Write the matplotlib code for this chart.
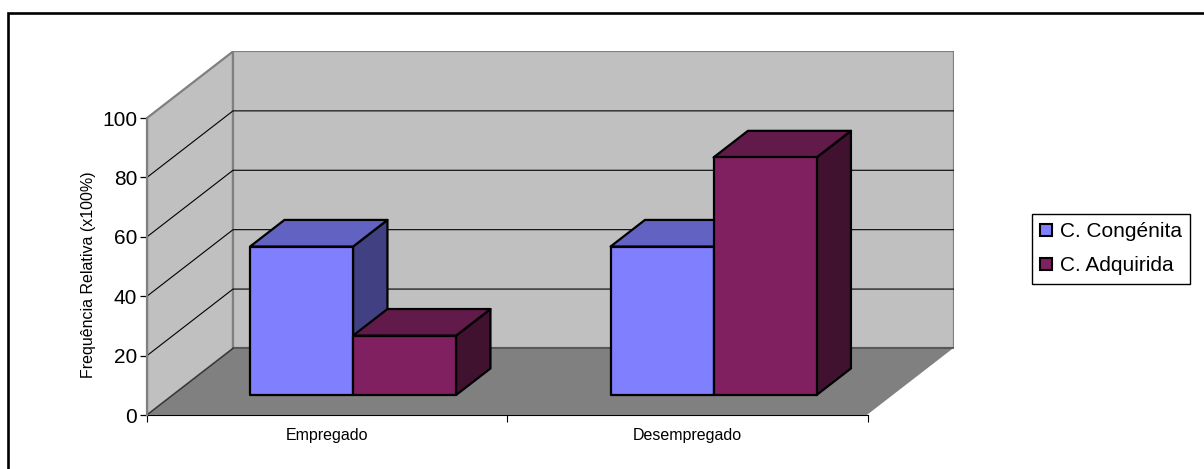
import matplotlib
matplotlib.use("Agg")
import matplotlib.pyplot as plt
from matplotlib.patches import Polygon, Rectangle, Patch

plt.rcParams['font.family'] = ['Liberation Sans', 'DejaVu Sans']

# Data
categories = ['Empregado', 'Desempregado']
series_names = ['C. Congénita', 'C. Adquirida']
congenita = [50, 50]
adquirida = [20, 80]
y_ticks = [0, 20, 40, 60, 80, 100]
y_label = 'Frequência Relativa (x100%)'

# Styling
face_colors = ['#8080FF', '#802060']
top_colors = ['#6262C2', '#621A4A']
side_colors = ['#404082', '#401230']
wall_color = '#C0C0C0'
floor_color = '#808080'
edge_gray = '#808080'

# Oblique projection of the depth axis, in data units
DX = 0.2386        # horizontal shift for full depth (category units)
DY = 22.4          # vertical shift for full depth (value units)
Z0, Z1 = 0.30, 0.70  # bar depth slot (gap depth 150%)
BAR_W = 1 / 3.5      # gap width 150%
YMAX = 100

W, H = 1204, 469
fig = plt.figure(figsize=(W / 100, H / 100), dpi=100)
fig.patch.set_facecolor('white')

ax_left, ax_bottom = 147, 54
ax_right = 868 + 86
ax_top = 54 + (YMAX + DY) * 2.97
ax = fig.add_axes([ax_left / W, ax_bottom / H,
                   (ax_right - ax_left) / W, (ax_top - ax_bottom) / H])
ncat = len(categories)
ax.set_xlim(0, ncat + DX)
ax.set_ylim(0, YMAX + DY)
ax.patch.set_visible(False)


def P(x, y, z):
    return (x + z * DX, y + z * DY)


# Side wall
side = Polygon([P(0, 0, 0), P(0, YMAX, 0), P(0, YMAX, 1), P(0, 0, 1)],
               closed=True, facecolor=wall_color, edgecolor=edge_gray,
               linewidth=1.6, zorder=1)
ax.add_patch(side)
# Back wall
back = Polygon([P(0, 0, 1), P(0, YMAX, 1), P(ncat, YMAX, 1), P(ncat, 0, 1)],
               closed=True, facecolor=wall_color, edgecolor=edge_gray,
               linewidth=1.6, zorder=1)
ax.add_patch(back)

# Gridlines on both walls
for v in y_ticks[1:-1]:
    xs = [P(0, v, 0)[0], P(0, v, 1)[0], P(ncat, v, 1)[0]]
    ys = [P(0, v, 0)[1], P(0, v, 1)[1], P(ncat, v, 1)[1]]
    ax.plot(xs, ys, color='black', linewidth=0.8, zorder=2)

# Floor
floor = Polygon([P(0, 0, 0), P(ncat, 0, 0), P(ncat, 0, 1), P(0, 0, 1)],
                closed=True, facecolor=floor_color, edgecolor='none', zorder=3)
ax.add_patch(floor)
ax.plot([P(ncat, 0, 0)[0], P(ncat, 0, 1)[0]], [P(ncat, 0, 0)[1], P(ncat, 0, 1)[1]],
        color='white', linewidth=1.0, zorder=3)
ax.plot([P(0, 0, 1)[0], P(ncat, 0, 1)[0]], [P(0, 0, 1)[1], P(ncat, 0, 1)[1]],
        color='#505050', linewidth=1.2, zorder=3)
ax.plot([P(0, 0, 0)[0], P(0, 0, 1)[0]], [P(0, 0, 0)[1], P(0, 0, 1)[1]],
        color='#303030', linewidth=0.9, zorder=3)

# 3D bars
series = [congenita, adquirida]
z = 4
for ci in range(ncat):
    center = ci + 0.5
    for si, values in enumerate(series):
        v = values[ci]
        x0 = center - BAR_W + si * BAR_W
        x1 = x0 + BAR_W
        kw = dict(closed=True, edgecolor='black', linewidth=1.6, joinstyle='round')
        ax.add_patch(Polygon([P(x1, 0, Z0), P(x1, v, Z0), P(x1, v, Z1), P(x1, 0, Z1)],
                             facecolor=side_colors[si], zorder=z, **kw))
        ax.add_patch(Polygon([P(x0, v, Z0), P(x1, v, Z0), P(x1, v, Z1), P(x0, v, Z1)],
                             facecolor=top_colors[si], zorder=z, **kw))
        ax.add_patch(Polygon([P(x0, 0, Z0), P(x1, 0, Z0), P(x1, v, Z0), P(x0, v, Z0)],
                             facecolor=face_colors[si], zorder=z, **kw))
        z += 1

# Axes: front value axis and category axis
for s in ['top', 'right']:
    ax.spines[s].set_visible(False)
ax.spines['left'].set_bounds(0, YMAX)
ax.spines['left'].set_color(edge_gray)
ax.spines['left'].set_linewidth(1.6)
ax.spines['left'].set_zorder(20)
ax.spines['bottom'].set_bounds(0, ncat)
ax.spines['bottom'].set_color('black')
ax.spines['bottom'].set_linewidth(0.8)

ax.set_yticks(y_ticks)
ax.set_yticklabels([str(t) for t in y_ticks], fontsize=15)
ax.tick_params(axis='y', direction='out', length=5, width=0.9, pad=2, color='black')

ax.set_xticks(range(ncat + 1))
ax.set_xticklabels([''] * (ncat + 1))
ax.tick_params(axis='x', which='major', direction='out', length=5, width=0.8, color='black')
ax.set_xticks([c + 0.5 for c in range(ncat)], minor=True)
ax.set_xticklabels(categories, minor=True, fontsize=11.5)
ax.tick_params(axis='x', which='minor', length=0, pad=9)

fig.text(88 / W, (H - 275) / H, y_label, rotation=90, fontsize=11.5,
         ha='center', va='center')

# Legend
handles = [Patch(facecolor=face_colors[i], edgecolor='black', linewidth=1.5,
                 label=series_names[i]) for i in range(len(series_names))]
leg = fig.legend(handles=handles, loc='upper left',
                 bbox_to_anchor=(1032 / W, (H - 214) / H), borderaxespad=0,
                 fontsize=15, handlelength=0.55, handleheight=0.55,
                 handletextpad=0.4, labelspacing=0.72, borderpad=0.4,
                 fancybox=False, framealpha=1, edgecolor='black')
leg.get_frame().set_linewidth(1.0)

# Outer chart-area border
fig.add_artist(Rectangle((8 / W, -0.1), 1.2, (H - 13.5) / H + 0.1,
                         transform=fig.transFigure, fill=False,
                         edgecolor='black', linewidth=1.9))

fig.savefig('out.png', dpi=100, facecolor='white')
